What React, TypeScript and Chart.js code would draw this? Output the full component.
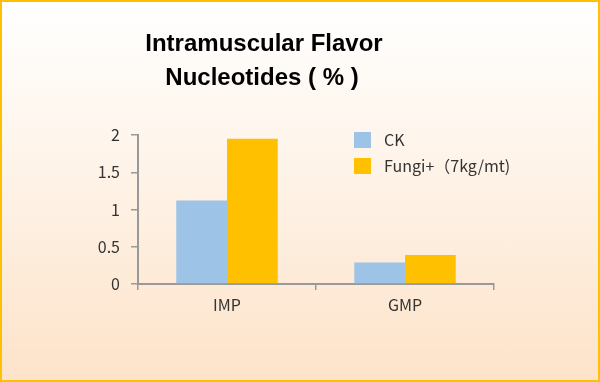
import React, { useEffect, useRef } from "react";
import { Chart, registerables } from "chart.js";

Chart.register(...registerables);

const categories = ["IMP", "GMP"];
const ckValues = [1.12, 0.29];
const fungiValues = [1.95, 0.39];
const seriesLabels = ["CK", "Fungi+（7kg/mt)"];
const titleLines = ["Intramuscular Flavor", "Nucleotides ( % )"];
const yTicks = [0, 0.5, 1, 1.5, 2];

const FONT = "'Noto Sans CJK SC', 'Noto Sans', sans-serif";

const decorPlugin = {
  id: "decor",
  afterDraw(chart: any) {
    const ctx = chart.ctx;
    ctx.save();
    // title
    ctx.fillStyle = "#000000";
    ctx.font = `bold 24px 'Liberation Sans', sans-serif`;
    ctx.textAlign = "center";
    ctx.textBaseline = "middle";
    ctx.fillText(titleLines[0], 264, 44);
    ctx.fillText(titleLines[1], 262, 78);
    // legend
    ctx.font = `16px ${FONT}`;
    ctx.textAlign = "left";
    const ds = chart.data.datasets;
    ds.forEach((d: any, i: number) => {
      const y = 132 + i * 26;
      ctx.fillStyle = d.backgroundColor;
      ctx.fillRect(354, y, 17, 16);
      ctx.fillStyle = "#333333";
      ctx.fillText(d.label, 384, y + 8);
    });
    ctx.restore();
  },
};

export default function App() {
  const ref = useRef<HTMLCanvasElement | null>(null);
  useEffect(() => {
    document.body.style.margin = "0";
    const chart = new Chart(ref.current as HTMLCanvasElement, {
      type: "bar",
      data: {
        labels: categories,
        datasets: [
          { label: seriesLabels[0], data: ckValues, backgroundColor: "#9DC3E6" },
          { label: seriesLabels[1], data: fungiValues, backgroundColor: "#FFC000" },
        ],
      },
      plugins: [decorPlugin],
      options: {
        animation: false,
        responsive: false,
        maintainAspectRatio: false,
        layout: { padding: { left: 0, right: 106, top: 135, bottom: 0 } },
        plugins: {
          legend: { display: false },
          title: { display: false },
          tooltip: { enabled: false },
        },
        datasets: {
          bar: { categoryPercentage: 0.57, barPercentage: 1 },
        },
        scales: {
          x: {
            grid: {
              offset: true,
              drawOnChartArea: false,
              drawTicks: true,
              tickLength: 6,
              color: "#999999",
              lineWidth: 1.5,
            },
            border: { color: "#999999", width: 2 },
            ticks: {
              color: "#333333",
              font: { family: FONT, size: 16 },
              padding: 5,
            },
            afterFit(scale: any) {
              scale.height = 98;
            },
          },
          y: {
            min: 0,
            max: 2,
            afterBuildTicks(scale: any) {
              scale.ticks = yTicks.map((v) => ({ value: v }));
            },
            grid: {
              drawOnChartArea: false,
              drawTicks: true,
              tickLength: 7,
              color: "#999999",
              lineWidth: 1.5,
            },
            border: { color: "#999999", width: 2 },
            ticks: {
              color: "#333333",
              font: { family: FONT, size: 16 },
              padding: 11,
              callback: (v: any) => String(v),
            },
            afterFit(scale: any) {
              scale.width = 138;
            },
          },
        },
      },
    });
    return () => chart.destroy();
  }, []);
  return (
    <div
      style={{
        position: "absolute",
        left: 0,
        top: 0,
        width: 600,
        height: 382,
        boxSizing: "border-box",
        border: "2px solid #FFC000",
        background: "linear-gradient(to bottom, #FFFFFF 0%, #FEF3E8 45%, #FDE3C9 100%)",
      }}
    >
      <canvas
        ref={ref}
        width={600}
        height={382}
        style={{ position: "absolute", left: -2, top: -2, width: 600, height: 382 }}
      />
    </div>
  );
}
